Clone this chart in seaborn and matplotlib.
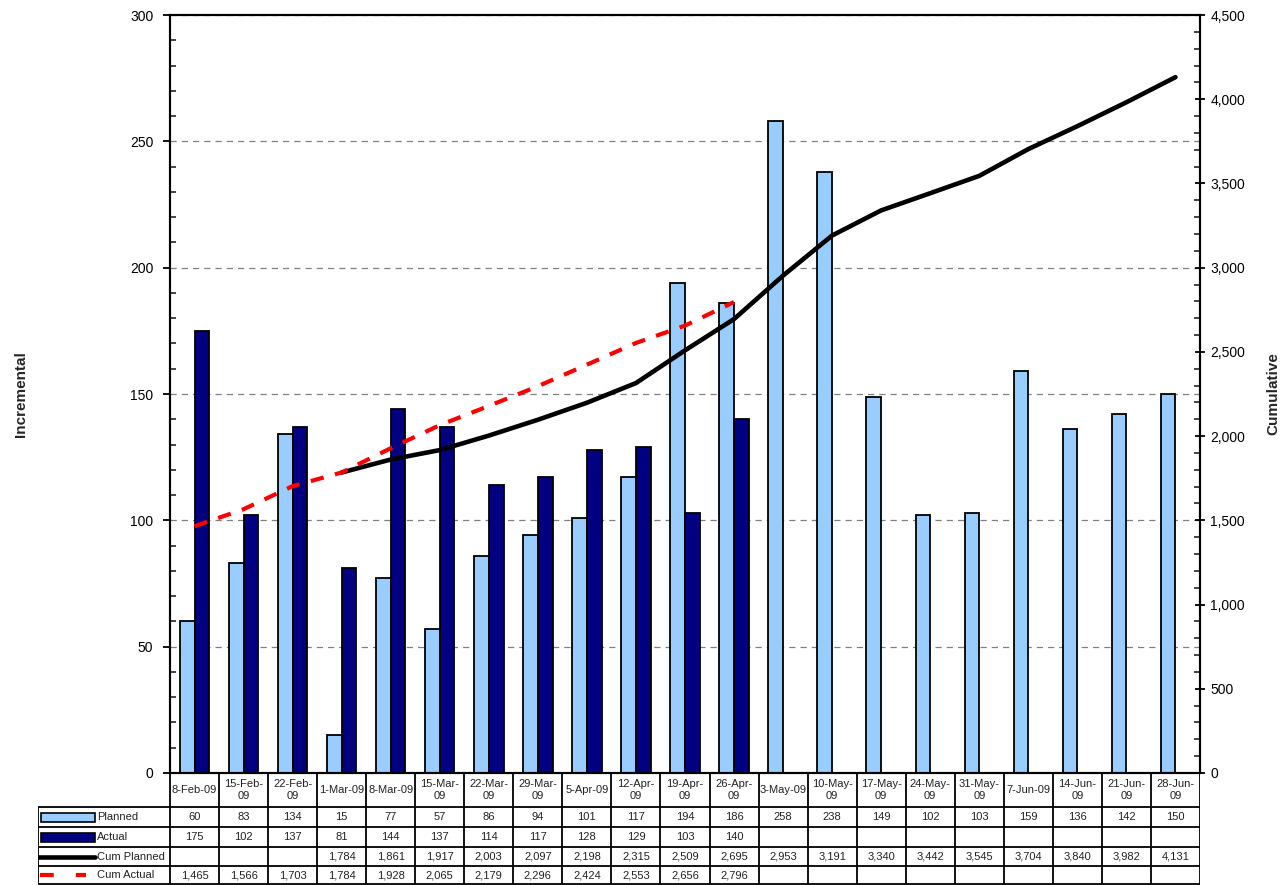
import numpy as np
import pandas as pd
import seaborn as sns
import matplotlib.pyplot as plt
from matplotlib.ticker import MultipleLocator, FuncFormatter
from matplotlib.patches import Rectangle

dates = ['8-Feb-09', '15-Feb-09', '22-Feb-09', '1-Mar-09', '8-Mar-09', '15-Mar-09',
         '22-Mar-09', '29-Mar-09', '5-Apr-09', '12-Apr-09', '19-Apr-09', '26-Apr-09',
         '3-May-09', '10-May-09', '17-May-09', '24-May-09', '31-May-09', '7-Jun-09',
         '14-Jun-09', '21-Jun-09', '28-Jun-09']
date_labels = ['8-Feb-09', '15-Feb-\n09', '22-Feb-\n09', '1-Mar-09', '8-Mar-09', '15-Mar-\n09',
               '22-Mar-\n09', '29-Mar-\n09', '5-Apr-09', '12-Apr-\n09', '19-Apr-\n09', '26-Apr-\n09',
               '3-May-09', '10-May-\n09', '17-May-\n09', '24-May-\n09', '31-May-\n09', '7-Jun-09',
               '14-Jun-\n09', '21-Jun-\n09', '28-Jun-\n09']
planned = [60, 83, 134, 15, 77, 57, 86, 94, 101, 117, 194, 186, 258, 238, 149, 102, 103,
           159, 136, 142, 150]
actual = [175, 102, 137, 81, 144, 137, 114, 117, 128, 129, 103, 140]
cum_planned = [None, None, None, 1784, 1861, 1917, 2003, 2097, 2198, 2315, 2509, 2695,
               2953, 3191, 3340, 3442, 3545, 3704, 3840, 3982, 4131]
cum_actual = [1465, 1566, 1703, 1784, 1928, 2065, 2179, 2296, 2424, 2553, 2656, 2796]

n = len(dates)
pos = np.arange(n)
actual_full = actual + [np.nan] * (n - len(actual))
cum_actual_full = cum_actual + [np.nan] * (n - len(cum_actual))
cum_planned_full = [np.nan if v is None else v for v in cum_planned]

bars = pd.concat([
    pd.DataFrame({'pos': pos, 'series': 'Planned', 'value': planned}),
    pd.DataFrame({'pos': pos, 'series': 'Actual', 'value': actual_full}),
]).dropna()
lines = pd.DataFrame({'pos': pos, 'Cum Planned': cum_planned_full, 'Cum Actual': cum_actual_full})

LIGHT = '#99CCFF'
NAVY = '#000080'

sns.set_theme(style='white')
plt.rcParams['font.family'] = ['Liberation Sans', 'DejaVu Sans']

W, H = 1281, 885
fig = plt.figure(figsize=(W / 100, H / 100), dpi=100)
L, R, T, B = 170, 1200, 15, 773
ax = fig.add_axes([L / W, 1 - B / H, (R - L) / W, (B - T) / H])

sns.barplot(data=bars, x='pos', y='value', hue='series', hue_order=['Planned', 'Actual'],
            order=list(pos), palette={'Planned': LIGHT, 'Actual': NAVY}, width=0.6,
            saturation=1, edgecolor='black', linewidth=1.3, errorbar=None, legend=False, ax=ax)
ax.set_xlim(-0.5, n - 0.5)
ax.set_ylim(0, 300)
ax.set_xticks([])
ax.set_xlabel('')
ax.yaxis.set_major_locator(MultipleLocator(50))
ax.yaxis.set_minor_locator(MultipleLocator(10))
ax.tick_params(axis='y', which='major', direction='out', length=5, width=1.3,
               labelsize=10, pad=7, colors='black')
ax.tick_params(axis='y', which='minor', direction='in', length=4, width=1.2, left=True)
ax.grid(axis='y', which='major', ls=(0, (5, 4)), color='#808080', lw=0.9)
ax.set_axisbelow(True)
ax.set_ylabel('Incremental', fontsize=11, fontweight='bold')
ax.yaxis.set_label_coords(-0.1378, 0.5)
for s in ax.spines.values():
    s.set_color('black')
    s.set_linewidth(1.5)

ax2 = ax.twinx()
sns.lineplot(data=lines, x='pos', y='Cum Planned', color='black', lw=3.3, ax=ax2)
sns.lineplot(data=lines, x='pos', y='Cum Actual', color='#FF0000', lw=3.0,
             ls=(0, (3.2, 2.8)), ax=ax2)
ax2.set_ylim(0, 4500)
ax2.set_xlim(-0.5, n - 0.5)
ax2.set_xlabel('')
ax2.yaxis.set_major_locator(MultipleLocator(500))
ax2.yaxis.set_minor_locator(MultipleLocator(100))
ax2.yaxis.set_major_formatter(FuncFormatter(lambda v, p: f'{int(v):,}'))
ax2.tick_params(axis='y', which='major', direction='inout', length=7, width=1.3,
                labelsize=10, pad=4, colors='black')
ax2.tick_params(axis='y', which='minor', direction='in', length=4, width=1.2, right=True)
ax2.set_ylabel('Cumulative', fontsize=11, fontweight='bold', rotation=90)
ax2.yaxis.set_label_coords(1.064, 0.5)
for s in ax2.spines.values():
    s.set_color('black')
    s.set_linewidth(1.5)

# --- data table below the plot ---
colw = (R - L) / n
TL = 38


def px2x(px):
    return -0.5 + (px - L) / colw


tax = fig.add_axes([TL / W, 0, (R - TL) / W, (H - B) / H])
tax.set_xlim(px2x(TL), n - 0.5)
tax.set_ylim(H, B)
tax.axis('off')

rows = [B, 807, 827, 847, 866, H - 1]
lc = dict(color='black', lw=1.3)
tax.hlines(rows[1:], px2x(TL), n - 0.5, **lc)
tax.hlines(rows[0], -0.5, n - 0.5, **lc)
tax.vlines(np.arange(n + 1) - 0.5, rows[0], rows[-1], **lc)
tax.vlines(px2x(TL), rows[1], rows[-1], **lc)

tc = '#222222'
for i in range(n):
    tax.text(i, (rows[0] + rows[1]) / 2, date_labels[i], ha='center', va='center',
             fontsize=8, color=tc, linespacing=1.3)

table_rows = [('Planned', planned), ('Actual', actual),
              ('Cum Planned', cum_planned), ('Cum Actual', cum_actual)]
for r, (name, vals) in enumerate(table_rows):
    yc = (rows[r + 1] + rows[r + 2]) / 2
    for i, v in enumerate(vals):
        if v is None:
            continue
        tax.text(i, yc, f'{v:,}', ha='center', va='center', fontsize=8, color=tc)
    tax.text(px2x(97), yc, name, ha='left', va='center', fontsize=8, color=tc)

# legend keys in the label column
for r, col in [(0, LIGHT), (1, NAVY)]:
    yc = (rows[r + 1] + rows[r + 2]) / 2
    tax.add_patch(Rectangle((px2x(41), yc - 4.5), px2x(95) - px2x(41), 9,
                            facecolor=col, edgecolor='black', lw=1.2))
yc = (rows[3] + rows[4]) / 2
tax.plot([px2x(38), px2x(95)], [yc, yc], color='black', lw=3.3, solid_capstyle='round')
yc = (rows[4] + rows[5]) / 2
tax.plot([px2x(40), px2x(86)], [yc, yc], color='#FF0000', lw=3.0, ls=(0, (3.3, 5.3)))

fig.savefig('out.png', dpi=100)
